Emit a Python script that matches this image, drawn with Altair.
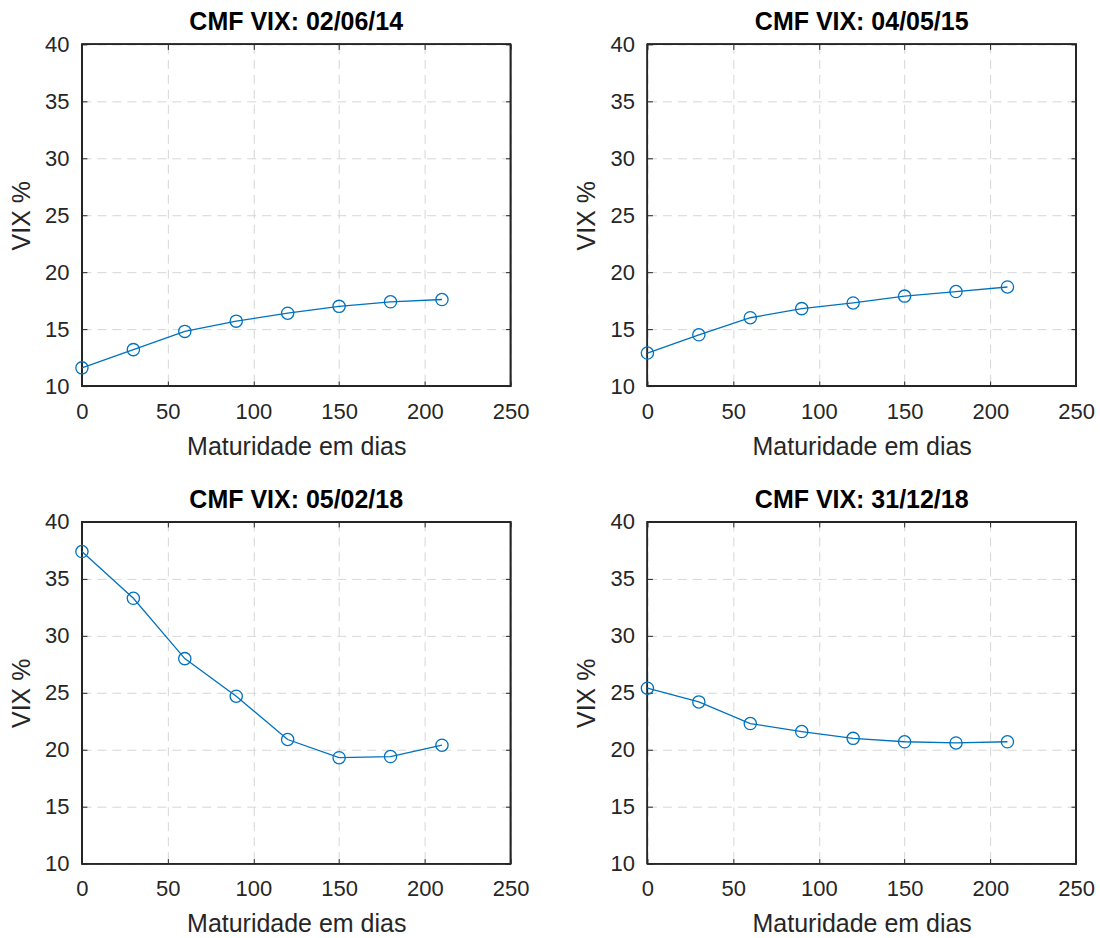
import altair as alt
import pandas as pd

maturity = [0, 30, 60, 90, 120, 150, 180, 210]
titles = ["CMF VIX: 02/06/14", "CMF VIX: 04/05/15", "CMF VIX: 05/02/18", "CMF VIX: 31/12/18"]
vix_140602 = [11.6, 13.2, 14.8, 15.7, 16.4, 17.0, 17.4, 17.6]
vix_150504 = [12.9, 14.5, 16.0, 16.8, 17.3, 17.9, 18.3, 18.7]
vix_180205 = [37.4, 33.3, 28.0, 24.7, 20.9, 19.3, 19.4, 20.4]
vix_181231 = [25.4, 24.2, 22.3, 21.6, 21.0, 20.7, 20.6, 20.7]
series = [vix_140602, vix_150504, vix_180205, vix_181231]

x_ticks = [0, 50, 100, 150, 200, 250]
y_ticks = [10, 15, 20, 25, 30, 35, 40]

BLUE = "#0072BD"
DARK = "#262626"
FONT = "Liberation Sans"
TICK_IN = alt.ExprRef(expr="-5")

xs = alt.Scale(domain=[x_ticks[0], x_ticks[-1]], nice=False)
ys = alt.Scale(domain=[y_ticks[0], y_ticks[-1]], nice=False, zero=False)
GRID = dict(grid=True, gridDash=[9, 6], gridColor="#d6d6d6", gridWidth=1)


def panel(title, values):
    df = pd.DataFrame({"d": maturity, "v": values})
    base = alt.Chart(df).encode(
        x=alt.X("d:Q", scale=xs,
                axis=alt.Axis(values=x_ticks, title="Maturidade em dias", orient="bottom", labelFlush=False,
                              ticks=True, tickSize=TICK_IN, labelPadding=20, titlePadding=12, **GRID)),
        y=alt.Y("v:Q", scale=ys,
                axis=alt.Axis(values=y_ticks, title="VIX %", orient="left", labelFlush=False,
                              ticks=True, tickSize=TICK_IN, labelPadding=18, titlePadding=10, **GRID)),
    )
    line = base.mark_line(color=BLUE, strokeWidth=1.3)
    pts = base.mark_point(shape="circle", filled=False, color=BLUE, size=150, strokeWidth=1.3, opacity=1)
    main = alt.layer(line, pts)
    frame = alt.Chart(df).mark_rect(fill=None, stroke=DARK, strokeWidth=1.2).encode(
        x=alt.XDatum(x_ticks[0], type="quantitative", axis=None),
        x2=alt.X2Datum(x_ticks[-1]),
        y=alt.YDatum(y_ticks[0], type="quantitative", axis=None),
        y2=alt.Y2Datum(y_ticks[-1]),
    )
    mirror = alt.Chart(df).mark_point(opacity=0).encode(
        x=alt.X("d:Q", scale=xs,
                axis=alt.Axis(values=x_ticks, title=None, orient="top", labels=False,
                              grid=False, ticks=True, tickSize=TICK_IN)),
        y=alt.Y("v:Q", scale=ys,
                axis=alt.Axis(values=y_ticks, title=None, orient="right", labels=False,
                              grid=False, ticks=True, tickSize=TICK_IN)),
    )
    return alt.layer(frame, main, mirror).resolve_axis(x="independent", y="independent").properties(
        width=429, height=342,
        title=alt.TitleParams(title, fontSize=25, fontWeight="bold", font=FONT, color="#000000", offset=-2),
    )


row1 = alt.hconcat(panel(titles[0], series[0]), panel(titles[1], series[1]), spacing=45)
row2 = alt.hconcat(panel(titles[2], series[2]), panel(titles[3], series[3]), spacing=45)
chart = alt.vconcat(row1, row2, spacing=29).properties(
    padding={"left": 9, "top": 10, "right": 5, "bottom": 2}
).configure_view(
    stroke=None
).configure_axis(
    domain=False, labelFont=FONT, titleFont=FONT, tickColor=DARK,
    labelFontSize=22, titleFontSize=25, labelColor=DARK, titleColor=DARK,
    titleFontWeight="normal",
)

chart.save("out.html", embed_options={"renderer": "svg", "actions": False})
